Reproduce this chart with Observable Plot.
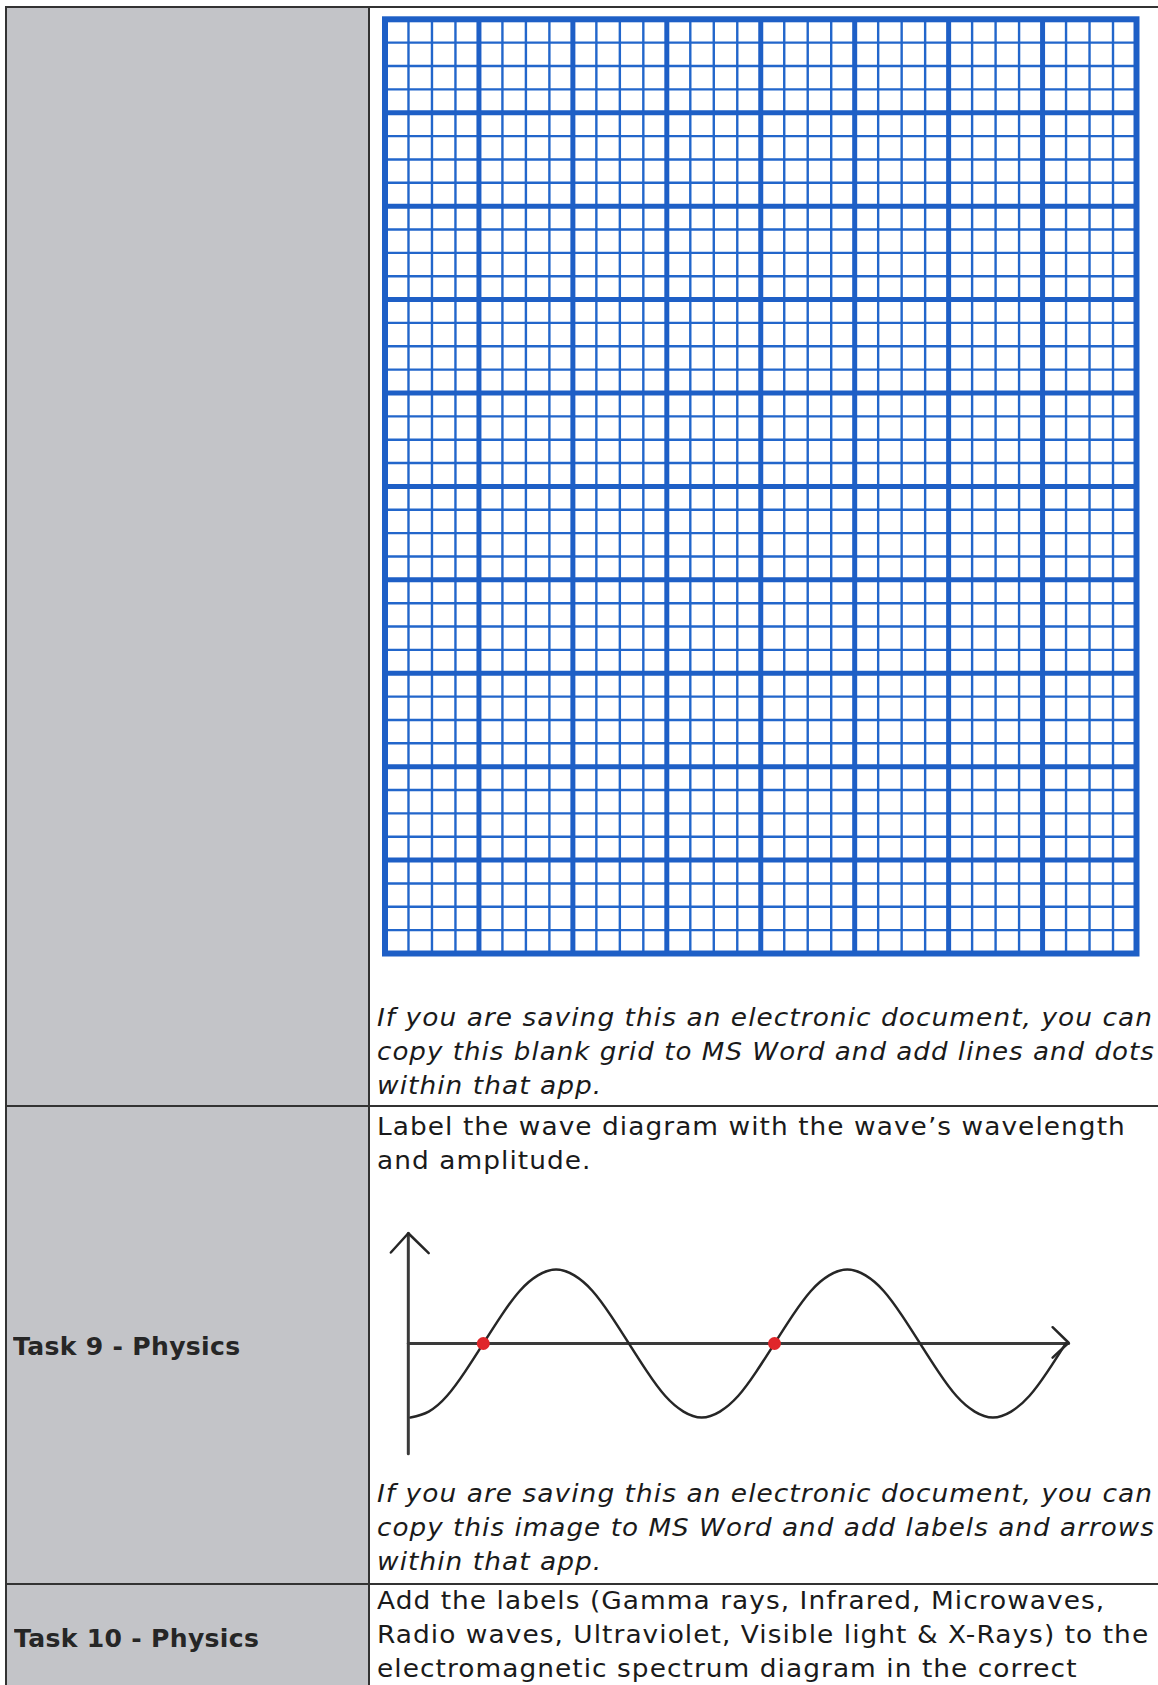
<!DOCTYPE html>
<html><head><meta charset="utf-8">
<script src="https://cdn.jsdelivr.net/npm/d3@7"></script>
<script src="https://cdn.jsdelivr.net/npm/@observablehq/plot@0.6"></script>
<style>
html,body{margin:0;padding:0;background:#fff;}
#page{position:relative;width:1158px;height:1685px;overflow:hidden;background:#fff;font-family:"DejaVu Sans",Verdana,sans-serif;color:#1a1a1a;}
.gray{position:absolute;left:6px;top:7px;width:363px;height:1678px;background:#c3c4c8;}
.hl{position:absolute;height:2px;background:#333;}
.vl{position:absolute;width:2px;background:#333;}
.line{position:absolute;white-space:nowrap;transform-origin:0 0;}
.holder{position:absolute;}
.holder svg{display:block;max-width:none;}
</style>
</head><body>
<div id="page">
  <div class="gray"></div>
</div>
<script>
// ---------- data ----------
// graph-paper grid: major cells and minor subdivisions
const gridMajorColumns = 8;
const gridMajorRows = 10;
const gridMinorPerMajor = 4;

// wave diagram, x in quarter-wavelengths, y in amplitudes
const wavePhase  = [0, 0.25, 0.5, 0.75, 1, 1.25, 1.5, 1.75, 2, 2.25, 2.5, 2.75, 3, 3.25, 3.5, 3.75,
                    4, 4.25, 4.5, 4.75, 5, 5.25, 5.5, 5.75, 6, 6.25, 6.5, 6.75, 7, 7.25, 7.5, 7.75,
                    8, 8.25, 8.5, 8.75, 9];
const waveHeight = [-1, -0.92, -0.71, -0.38, 0, 0.38, 0.71, 0.92, 1, 0.92, 0.71, 0.38, 0, -0.38, -0.71, -0.92,
                    -1, -0.92, -0.71, -0.38, 0, 0.38, 0.71, 0.92, 1, 0.92, 0.71, 0.38, 0, -0.38, -0.71, -0.92,
                    -1, -0.92, -0.71, -0.38, 0];
const markedPhase = [1, 5];          // red dots on the axis
const verticalAxis   = {x: [-0.03, -0.03], y: [-1.49, 1.49]};
const horizontalAxis = {x: [-0.03, 9.04], y: [0, 0]};
const verticalHead   = {x: [-0.27, -0.03, 0.25], y: [1.23, 1.49, 1.22]};
const horizontalHead = {x: [8.82, 9.04, 8.82], y: [0.22, 0.01, -0.19]};

// page text
const sideLabels = [
  {text: "Task 9 - Physics", baseline: 1356, left: 13},
  {text: "Task 10 - Physics", baseline: 1648, left: 14}
];
const bodyLines = [
  {text: "If you are saving this an electronic document, you can", baseline: 1027, italic: true},
  {text: "copy this blank grid to MS Word and add lines and dots", baseline: 1061, italic: true},
  {text: "within that app.", baseline: 1095, italic: true},
  {text: "Label the wave diagram with the wave\u2019s wavelength", baseline: 1136, italic: false},
  {text: "and amplitude.", baseline: 1170, italic: false},
  {text: "If you are saving this an electronic document, you can", baseline: 1503, italic: true},
  {text: "copy this image to MS Word and add labels and arrows", baseline: 1537, italic: true},
  {text: "within that app.", baseline: 1571, italic: true},
  {text: "Add the labels (Gamma rays, Infrared, Microwaves,", baseline: 1610, italic: false},
  {text: "Radio waves, Ultraviolet, Visible light & X-Rays) to the", baseline: 1644, italic: false},
  {text: "electromagnetic spectrum diagram in the correct", baseline: 1678, italic: false}
];

// ---------- layout ----------
const page = document.getElementById("page");
function box(cls, style) {
  const d = document.createElement("div");
  d.className = cls;
  Object.assign(d.style, style);
  page.appendChild(d);
  return d;
}
// table rules
box("hl", {left: "5px", top: "6px", width: "1153px"});
box("hl", {left: "5px", top: "1105px", width: "1153px"});
box("hl", {left: "5px", top: "1583px", width: "1153px"});
box("vl", {left: "5px", top: "6px", height: "1679px"});
box("vl", {left: "368px", top: "6px", height: "1679px"});

const fs = 24;
const ascent = 0.928 * fs;
const textLeft = 377, textRightLimit = 1155;
for (const l of bodyLines) {
  const d = box("line", {left: textLeft + "px", top: (l.baseline - ascent) + "px", fontSize: fs + "px",
    lineHeight: (1.164 * fs) + "px", fontStyle: l.italic ? "italic" : "normal",
    letterSpacing: "0.95px"});
  d.textContent = l.text;
  const natural = d.getBoundingClientRect().width;
  const scale = Math.min(1.1, (textRightLimit - textLeft) / natural);
  d.style.transform = `scaleX(${scale})`;
}
for (const l of sideLabels) {
  const d = box("line", {left: l.left + "px", top: (l.baseline - ascent) + "px", fontSize: fs + "px",
    lineHeight: (1.164 * fs) + "px", fontWeight: "bold", color: "#262626",
    letterSpacing: "0.3px", transform: "scaleX(1.045)"});
  d.textContent = l.text;
}

// ---------- graph paper ----------
const nx = gridMajorColumns * gridMinorPerMajor;
const ny = gridMajorRows * gridMinorPerMajor;
const gridLines = d3.range(1, nx);
const gridRows = d3.range(1, ny);
const minorCols = gridLines.filter(v => v % gridMinorPerMajor !== 0);
const majorCols = gridLines.filter(v => v % gridMinorPerMajor === 0);
const minorRows = gridRows.filter(v => v % gridMinorPerMajor !== 0);
const majorRows = gridRows.filter(v => v % gridMinorPerMajor === 0);
const blue = "#1e5fc6";

const grid = Plot.plot({
  width: 776, height: 956,
  marginLeft: 10.5, marginRight: 14, marginTop: 10.8, marginBottom: 11,
  x: {domain: [0, nx], axis: null},
  y: {domain: [0, ny], axis: null},
  style: {background: "transparent"},
  marks: [
    Plot.ruleX(minorCols, {stroke: "#2266cb", strokeWidth: 2.4}),
    Plot.ruleY(minorRows, {stroke: "#2266cb", strokeWidth: 2.4}),
    Plot.ruleX(majorCols, {stroke: blue, strokeWidth: 5}),
    Plot.ruleY(majorRows, {stroke: blue, strokeWidth: 5}),
    Plot.frame({stroke: blue, strokeWidth: 6})
  ]
});
box("holder", {left: "374px", top: "8px", width: "776px", height: "956px"}).appendChild(grid);

// ---------- wave diagram ----------
const waveData = wavePhase.map((p, i) => ({p, h: waveHeight[i]}));
const toPts = s => s.x.map((x, i) => ({x, y: s.y[i]}));
const ink = "#262626";
const wave = Plot.plot({
  width: 720, height: 266,
  x: {domain: [0, 9], range: [30, 685.2], axis: null},
  y: {domain: [-1, 1], range: [207, 59], axis: null},
  style: {background: "transparent", overflow: "visible"},
  marks: [
    Plot.line(toPts(verticalAxis), {x: "x", y: "y", stroke: "#3a3a3a", strokeWidth: 3}),
    Plot.line(toPts(horizontalAxis), {x: "x", y: "y", stroke: "#3a3a3a", strokeWidth: 3}),
    Plot.line(toPts(verticalHead), {x: "x", y: "y", stroke: ink, strokeWidth: 2.5}),
    Plot.line(toPts(horizontalHead), {x: "x", y: "y", stroke: ink, strokeWidth: 2.5}),
    Plot.line(waveData, {x: "p", y: "h", curve: "natural", stroke: ink, strokeWidth: 2.5}),
    Plot.dot(markedPhase, {x: d => d, y: () => 0, r: 6.5, fill: "#e0262a", stroke: "none"})
  ]
});
box("holder", {left: "380px", top: "1210px", width: "720px", height: "266px"}).appendChild(wave);
</script>
</body></html>
